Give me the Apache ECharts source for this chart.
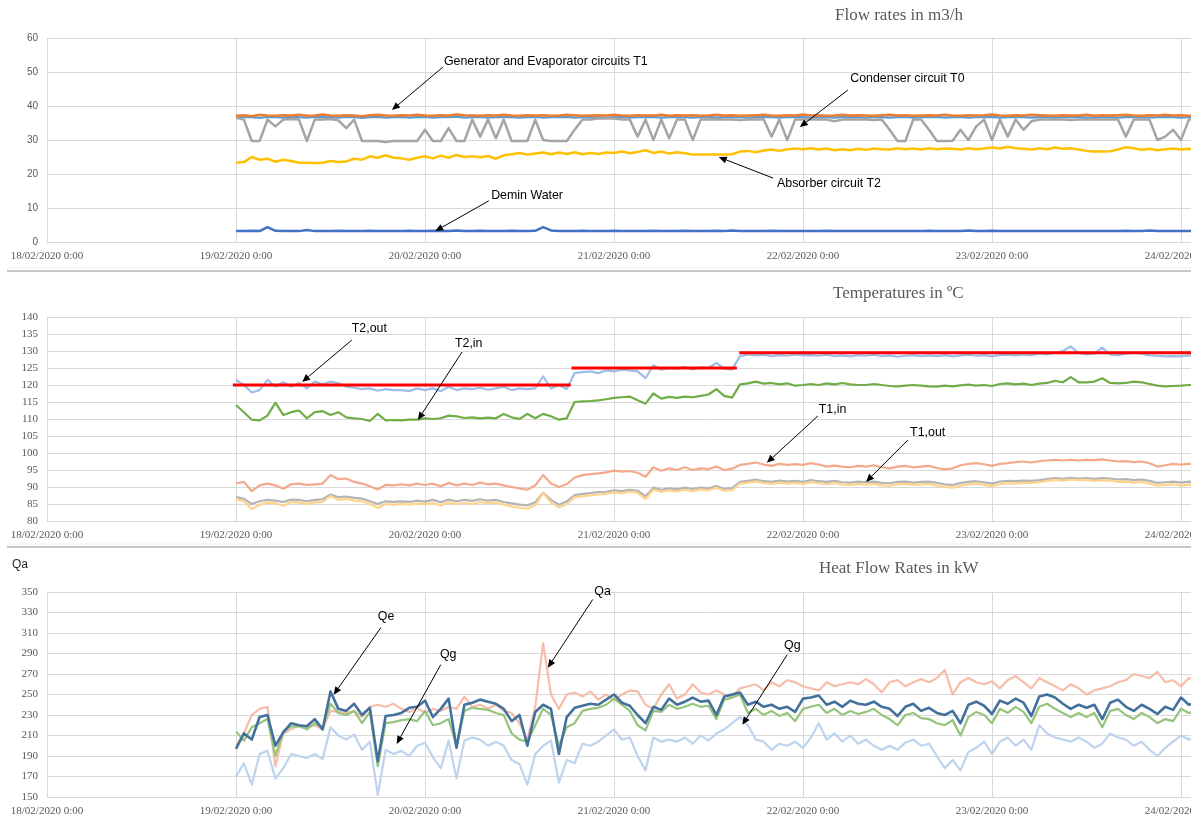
<!DOCTYPE html>
<html>
<head>
<meta charset="utf-8">
<script src="https://cdn.jsdelivr.net/npm/echarts@6/dist/echarts.min.js"></script>
<style>
  html, body { margin: 0; padding: 0; width: 1191px; height: 820px; overflow: hidden; background: #fff; }
  #chart { width: 1460px; height: 820px; }
</style>
</head>
<body>
<div id="chart"></div>
<script>
// Day tick labels on the shared time axis (hours counted from 18/02/2020 0:00)
const dayLabels = ['18/02/2020 0:00', '19/02/2020 0:00', '20/02/2020 0:00', '21/02/2020 0:00',
  '22/02/2020 0:00', '23/02/2020 0:00', '24/02/2020 0:00', '25/02/2020 0:00'];
const startHour = 24;   // first logged sample: 19/02/2020 0:00
const stepHours = 1;    // hourly samples

// ---- Flow rates in m3/h ----
const flowGenEvapT1 = [
  37.1,37.3,37.0,37.4,37.2,37.1,37.3,37.2,37.4,37.1,37.2,37.5,
  37.2,37.1,37.3,37.2,37.0,37.3,37.4,37.2,37.1,37.3,37.2,37.4,
  37.2,37.1,37.3,37.2,37.5,37.3,37.2,37.1,37.3,37.2,37.4,37.2,
  37.1,37.3,37.2,37.3,37.1,37.2,37.4,37.3,37.1,37.2,37.3,37.2,
  37.4,37.2,37.1,37.3,37.2,37.2,37.4,37.1,37.3,37.2,37.3,37.1,
  37.2,37.4,37.2,37.3,37.1,37.2,37.3,37.4,37.2,37.1,37.3,37.2,
  37.5,37.2,37.3,37.1,37.2,37.4,37.2,37.3,37.2,37.1,37.3,37.4,
  37.2,37.3,37.1,37.2,37.3,37.2,37.4,37.2,37.1,37.3,37.2,37.3,
  37.5,37.2,37.1,37.3,37.2,37.4,37.3,37.2,37.1,37.3,37.2,37.2,
  37.4,37.1,37.3,37.2,37.3,37.4,37.2,37.1,37.3,37.2,37.4,37.2,
  37.3,37.1,37.2,37.3];
const flowGenEvapT1b = [
  36.6,36.8,36.7,36.5,36.8,36.7,36.6,36.9,36.7,36.6,36.8,36.7,
  36.7,36.6,36.8,36.7,36.5,36.7,36.8,36.6,36.7,36.8,36.6,36.7,
  36.8,36.6,36.7,36.7,36.9,36.6,36.7,36.8,36.6,36.7,36.8,36.7,
  36.6,36.7,36.8,36.6,36.7,36.7,36.8,36.6,36.7,36.8,36.7,36.6,
  36.7,36.8,36.6,36.7,36.7,36.8,36.6,36.7,36.8,36.7,36.6,36.7,
  36.8,36.6,36.7,36.7,36.8,36.6,36.7,36.8,36.7,36.6,36.7,36.8,
  36.7,36.6,36.8,36.7,36.6,36.7,36.8,36.7,36.6,36.8,36.7,36.6,
  36.7,36.8,36.6,36.7,36.7,36.8,36.6,36.7,36.8,36.6,36.7,36.7,
  36.8,36.6,36.7,36.8,36.7,36.6,36.7,36.8,36.6,36.7,36.8,36.7,
  36.6,36.7,36.8,36.7,36.6,36.7,36.8,36.7,36.6,36.7,36.8,36.7,
  36.6,36.7,36.7,36.8];
const flowCondenserT0 = [
  36.5,36,29.7,29.7,36,34,36,36.2,36,29.7,36,36,
  36.2,35.8,33.5,36,29.7,29.7,29.7,29.4,29.7,29.7,29.7,29.7,
  33,29.7,29.7,33.5,29.7,29.7,36,31,36,30.5,36,29.7,
  29.7,29.7,36,30,29.7,29.7,29.7,33,36,36,36.3,36.3,
  36.3,36,36,31,36,30,36,30.5,36,36,30,36,
  36,36.1,36,36,35.9,36,36,36.1,31,36,30,36,
  36,36.1,36,36,35.5,36,36.1,36,36,35.9,36,33,
  29.7,29.7,36,36,33,29.7,29.7,29.8,33,30,34,36,
  30,36,31,36,33,35.5,36,36,36.1,36,35.9,36,
  36,36.1,36,36,36,31,36,36,36,30,31,33,
  30,36,36,36];
const flowAbsorberT2 = [
  23.3,23.5,25,24.2,24.5,23.6,24.2,23.8,23.3,23.3,23.2,23.3,
  23.8,23.5,23.7,24.5,24.2,25.2,24.8,25.5,24.8,24.6,24.2,24.8,
  25.2,24.6,25.4,24.8,25.6,25,25.2,24.9,25.3,24.5,25.5,25.8,
  26.2,25.7,26,26.3,25.8,26.3,25.9,26.4,25.8,26.2,25.9,26.3,
  26.2,26.6,26.1,26.5,27,26.2,26.6,26,26.4,26.1,25.7,25.7,
  25.7,25.7,25.7,25.8,26.6,26.8,26.4,26.9,27.2,26.8,27.3,27.5,
  27.3,27.6,27.2,27.5,27,27.3,27,27.4,27.1,27.5,27.3,27.2,
  27.6,27.3,27.5,27.2,27.6,27.3,27.5,27.4,27.2,27.6,27.3,27.5,
  27.8,27.5,28,27.6,27.4,27.2,27.6,27.3,27.8,27.4,27.6,27.2,
  26.8,26.6,26.6,26.7,27.2,27.9,27.6,27.1,27.4,27,27.3,27.5,
  27.2,27.4,27.3,27.3];
const flowDeminWater = [
  3.2,3.2,3.3,3.2,4.4,3.3,3.2,3.2,3.2,3.5,3.2,3.2,
  3.2,3.3,3.2,3.2,3.2,3.3,3.2,3.2,3.2,3.2,3.3,3.2,
  3.2,3.3,3.2,3.2,3.4,3.2,3.2,3.3,3.2,3.2,3.2,3.3,
  3.2,3.2,3.3,4.4,3.4,3.2,3.2,3.2,3.3,3.2,3.2,3.2,
  3.3,3.2,3.2,3.2,3.2,3.3,3.2,3.2,3.2,3.3,3.2,3.2,
  3.2,3.3,3.2,3.4,3.2,3.2,3.2,3.2,3.3,3.2,3.2,3.2,
  3.2,3.2,3.2,3.3,3.2,3.2,3.2,3.2,3.2,3.2,3.2,3.2,
  3.2,3.2,3.2,3.2,3.3,3.2,3.2,3.2,3.2,3.4,3.2,3.2,
  3.3,3.2,3.2,3.2,3.2,3.2,3.2,3.2,3.2,3.2,3.2,3.2,
  3.2,3.2,3.2,3.2,3.2,3.3,3.2,3.2,3.4,3.2,3.2,3.2,
  3.2,3.2,3.2,3.2];

// ---- Temperatures in ºC ----
const tempT2out = [
  121.5,120,117.8,118.5,121.5,119.5,120.8,119.5,120.6,119,121,120.2,
  121,120.5,119.5,119.2,118.8,119,118.3,118.8,118.5,118.5,118.2,119,
  118.5,119,118.2,119.5,118.5,119,118.8,119.2,118.6,119,119.5,118.5,
  119,118.8,119,122.5,119,120,118.8,123.5,123.8,124,123.5,124.3,
  124,124.5,124.3,124,122,125.8,124.5,125,124.8,125.3,124.6,125.2,
  125,126.5,124.8,124.6,128.5,129,128.7,128.9,128.5,128.8,128.6,129,
  128.7,128.8,128.6,128.9,128.5,128.7,128.4,128.8,128.6,128.9,128.5,128.7,
  128.3,128.6,128.8,128.5,128.7,128.5,128.8,128.4,128.7,128.9,128.6,128.8,
  128.4,128.8,128.9,128.7,129,128.8,129.3,129,129.5,130,131.3,129.4,
  129,129.2,131,129,128.8,129.2,129.5,129.2,128.7,128.6,128.4,128.5,
  128.4,128.7,128.6,128.6];
const tempT2in = [
  114.1,112,109.8,109.6,111,114.8,111.2,112,112.5,110.2,112,112.3,
  111.2,112,110.5,110.2,110,109.4,111.5,109.6,109.7,109.6,109.8,109.8,
  110.2,110,110.2,111,110.8,110.3,110.5,110.2,110.4,110.2,111.5,110.5,
  110,111.5,110.2,111.5,110.8,109.8,110.2,115,115.2,115.3,115.5,115.8,
  116.2,116.4,116.6,115.5,114.5,117.5,116,116.5,116.2,116.6,116.4,116.8,
  117.2,118.8,116.8,116.3,120.2,120.5,121,120.4,120.6,120.2,120.5,119.8,
  120,120.3,120,120.5,120.2,120.6,120.2,120,120,120.3,120,119.7,
  119.6,119.8,120,119.8,119.6,119.5,119.8,119.6,119.9,120.1,119.8,120,
  119.7,120.3,120.5,120.2,120.4,120,120.4,120.6,121.2,120.8,122.3,120.8,
  120.8,121,122,120.6,120.5,120.6,121,120.8,120.3,119.8,119.6,119.7,
  119.8,120,120,120];
const tempT1in = [
  91.1,91.5,88.8,90.5,91,90.5,89.5,90.8,91,90.6,90.8,91,
  93.5,92.3,92.5,91.5,91,90.2,89.3,90.6,90.5,90.8,90.5,91,
  90.6,91,90.2,91.2,90.5,91,90.6,91.3,90.8,91,90.5,90,
  89.6,89.2,90.5,93.5,91,90,90.8,92.8,93.5,93.8,94,94.3,
  94.8,94.5,94.7,94.2,93,95.8,94.8,95.5,95,95.8,95,95.5,
  95.3,96,95,95.4,96.5,96.8,97.2,96.6,96.2,96.8,96.5,96.7,
  96.5,97,96.6,96,96.3,96,95.8,96.2,96,96.4,95.8,95.5,
  96,96.2,95.8,96,96.2,95.6,95.2,95.5,96.4,96.8,97,96.7,
  96.2,96.8,97,97.3,97.5,97.2,97.6,97.8,98,97.8,98,97.8,
  98,97.9,98.1,97.8,97.5,97.6,97.3,97.5,97,96,96.4,96.8,
  96.6,96.8,96.8,96.8];
const tempT1outA = [
  87,86.5,85,85.8,86.2,86,85.6,86.3,86.2,85.8,86.2,86.4,
  87.8,87,87.2,86.8,86.6,85.8,85,85.8,85.6,85.8,85.6,86,
  85.7,86.2,85.5,86.3,85.8,86.2,85.9,86.4,86,86.2,85.6,85.2,
  84.8,84.6,85.5,88.3,86.2,84.8,85.8,87.6,88,88.2,88.5,88.6,
  89,88.8,89.2,88.9,87.3,89.8,89.2,89.6,89.3,89.8,89.4,89.8,
  89.6,90.3,89.5,89.7,91.5,91.8,92.2,91.7,91.5,91.9,91.6,91.8,
  91.5,92,91.7,91.5,91.8,91.4,91.3,91.6,91.4,91.6,91.2,91.1,
  91.5,91.6,91.3,91.5,91.6,91.2,90.8,90.6,91.2,91.5,91.7,91.4,
  91,91.6,91.8,91.7,91.9,91.8,92,92.3,92.6,92.4,92.7,92.5,
  92.6,92.4,92.6,92.5,92.2,92.3,92,92.2,91.8,91.2,91.4,91.6,
  91.3,91.6,91.5,91.5];
const tempT1outB = [
  86.5,85.8,83.5,84.8,85.4,85.2,84.5,85.6,85.4,85,85.5,85.6,
  87.4,86.2,86.5,86,85.8,85,83.8,85,84.8,85,84.8,85.2,
  84.9,85.3,84.6,85.5,85,85.3,85,85.6,85.2,85.4,84.8,84.3,
  83.9,83.6,84.6,88.2,85.4,84,85,87,87.3,87.5,87.8,88,
  88.4,88.2,88.6,88.3,86.5,89.2,88.6,89,88.7,89.2,88.8,89.3,
  89,89.8,88.9,89.1,91,91.3,91.6,91.2,90.9,91.3,91,91.2,
  90.9,91.4,91.1,90.8,91.1,90.7,90.6,90.9,90.7,90.9,90.5,90.3,
  90.8,90.9,90.6,90.8,90.9,90.4,90,89.8,90.4,90.8,91,90.7,
  90.2,90.9,91.1,91,91.3,91.2,91.4,91.8,92.1,91.9,92.2,92,
  92.1,91.8,92,91.9,91.5,91.6,91.3,91.5,91,90.4,90.6,90.8,
  90.4,90.7,90.6,90.6];
// T2,out set-point steps: start hour, end hour, value
const setpointFrom = [23.6, 66.6, 87.9];
const setpointTo = [66.5, 87.6, 170];
const setpointT2out = [120, 125, 129.5];

// ---- Heat Flow Rates in kW ----
const heatQe = [
  197,212,206,228,230,200,213,222,220,219,226,216,
  253,236,234,241,230,237,185,229,230,232,237,238,
  244,228,236,246,198,240,242,245,243,241,236,224,
  230,200,233,240,236,192,228,237,239,241,240,245,
  250,242,239,230,222,238,235,246,240,243,247,243,
  244,230,248,250,252,240,243,238,240,236,238,233,
  246,247,249,240,243,238,244,241,240,243,238,236,
  229,238,241,234,237,232,230,234,222,240,243,239,
  231,244,241,246,242,229,248,250,247,241,236,240,
  237,240,226,242,245,238,234,240,236,231,238,235,
  247,240,242,240];
const heatQc = [
  214,205,218,222,226,190,214,219,219,216,222,218,
  241,232,230,234,222,233,180,222,223,225,226,224,
  234,220,222,226,200,234,237,236,235,232,230,212,
  206,204,220,236,230,200,218,222,234,236,237,240,
  246,240,234,220,215,234,233,240,236,238,241,238,
  239,226,245,247,250,232,236,230,234,229,232,224,
  236,238,240,232,236,230,234,231,233,236,230,226,
  220,230,232,227,226,222,220,225,210,228,233,230,
  222,236,232,238,233,222,238,241,236,232,228,232,
  228,232,218,234,236,230,226,232,228,222,226,224,
  236,232,234,232];
const heatQa = [
  200,212,230,236,238,180,212,216,220,218,220,216,
  234,233,232,234,228,238,240,238,241,236,233,237,
  232,236,234,238,236,248,238,240,236,240,234,232,
  222,206,238,300,250,236,250,252,248,253,245,250,
  244,250,254,253,240,236,250,260,246,250,260,252,
  250,254,250,248,256,258,260,254,262,258,264,262,
  258,256,254,262,258,260,262,260,265,260,252,262,
  264,258,262,265,262,266,274,250,262,266,262,260,
  263,256,264,268,262,256,266,262,258,254,260,256,
  250,254,256,258,262,264,270,268,266,272,262,264,
  258,266,264,262];
const heatQg = [
  170,183,162,192,195,168,178,192,190,188,192,187,
  218,210,206,211,196,204,152,196,192,195,190,200,
  203,189,178,205,168,205,208,206,200,204,200,186,
  182,162,192,200,205,164,186,183,202,200,204,210,
  216,206,208,190,176,208,204,206,204,208,202,210,
  205,212,216,222,228,220,206,204,196,202,200,204,
  198,208,222,206,212,204,210,202,206,200,196,200,
  196,203,206,200,202,190,178,186,176,194,198,204,
  192,204,208,200,206,196,220,212,208,206,204,208,
  204,198,202,212,208,206,200,204,196,190,198,204,
  210,206,208,204];

// ---------------------------------------------------------------
const chart = echarts.init(document.getElementById('chart'), null, { renderer: 'canvas' });

const AXIS_GREY = '#595959';
const GRID_GREY = '#d9d9d9';

const panels = [
  { top: 38,  height: 204, min: 0,   max: 60,  interval: 10, labelFont: 'Liberation Sans', labelSize: 10 },
  { top: 317, height: 204, min: 80,  max: 140, interval: 5,  labelFont: 'Liberation Serif', labelSize: 11 },
  { top: 592, height: 205, min: 150, max: 350, interval: 20, labelFont: 'Liberation Serif', labelSize: 11 }
];

// fixed plot rectangles: labels may hang outside the canvas edge
const grid = panels.map(p => ({
  left: 47, width: 1323, top: p.top, height: p.height,
  containLabel: false, outerBoundsMode: 'none'
}));

const xAxis = panels.map((p, i) => ({
  type: 'value', gridIndex: i, min: 0, max: 168, interval: 24,
  axisLine: { show: true, lineStyle: { color: GRID_GREY, width: 1 } },
  axisTick: { show: false },
  axisLabel: {
    formatter: v => dayLabels[Math.round(v / 24)],
    fontFamily: 'Liberation Serif', fontSize: 11, color: AXIS_GREY, margin: 9,
    showMinLabel: true, showMaxLabel: true
  },
  splitLine: { show: true, lineStyle: { color: GRID_GREY, width: 1 } }
}));

const yAxis = panels.map((p, i) => ({
  type: 'value', gridIndex: i, min: p.min, max: p.max, interval: p.interval,
  axisLine: { show: false }, axisTick: { show: false },
  axisLabel: { fontFamily: p.labelFont, fontSize: p.labelSize, color: AXIS_GREY, margin: 9 },
  splitLine: { show: true, lineStyle: { color: GRID_GREY, width: 1 } }
}));

function lineSeries(name, values, gi, color, width, z) {
  return {
    name, type: 'line', xAxisIndex: gi, yAxisIndex: gi,
    data: values.map((v, i) => [startHour + i * stepHours, v]),
    symbol: 'none', showSymbol: false, silent: true, z: z || 2,
    lineStyle: { color, width, join: 'round' }, itemStyle: { color }
  };
}

const series = [
  // flow rates
  lineSeries('Generator and Evaporator circuits T1 (2)', flowGenEvapT1b, 0, '#5B9BD5', 2.2),
  lineSeries('Condenser circuit T0', flowCondenserT0, 0, '#A5A5A5', 2.5),
  lineSeries('Absorber circuit T2', flowAbsorberT2, 0, '#FFC000', 2.5),
  lineSeries('Demin Water', flowDeminWater, 0, '#4472C4', 2.5),
  lineSeries('Generator and Evaporator circuits T1', flowGenEvapT1, 0, '#ED7D31', 2.5),
  // temperatures
  lineSeries('T2,out', tempT2out, 1, '#9DBEE6', 2.2),
  lineSeries('T2,in', tempT2in, 1, '#70AD47', 2.2),
  lineSeries('T1,in', tempT1in, 1, '#F4A98B', 2.2),
  lineSeries('T1,out (a)', tempT1outA, 1, '#B4B4B4', 2.2),
  lineSeries('T1,out', tempT1outB, 1, '#FFD38C', 2.2),
  // heat flow rates
  lineSeries('Qg', heatQg, 2, '#BDD3EE', 2.2),
  lineSeries('Qa', heatQa, 2, '#F6BDA8', 2.2),
  lineSeries('Qc', heatQc, 2, '#97C47C', 2.2),
  lineSeries('Qe', heatQe, 2, '#41719C', 2.6)
];

// red T2,out set-point segments
setpointT2out.forEach((v, i) => {
  series.push({
    name: 'T2,out set-point ' + (i + 1), type: 'line', xAxisIndex: 1, yAxisIndex: 1,
    data: [[setpointFrom[i], v], [setpointTo[i], v]],
    symbol: 'none', silent: true, z: 5,
    lineStyle: { color: '#FF0000', width: 3 }
  });
});

const titleStyle = { fontFamily: 'Liberation Serif', fontSize: 17, fontWeight: 'normal', color: AXIS_GREY };

chart.setOption({
  animation: false,
  backgroundColor: '#ffffff',
  title: [
    { text: 'Flow rates in m3/h', left: 830, top: 2, textStyle: titleStyle },
    { text: 'Temperatures in ºC', left: 828, top: 280, textStyle: titleStyle },
    { text: 'Heat Flow Rates in kW', left: 814, top: 555, textStyle: titleStyle }
  ],
  grid, xAxis, yAxis, series
});

// Callouts: label position, arrow tail and arrow head, all in data units of their panel
const callouts = [
  { g: 0, text: 'Generator and Evaporator circuits T1', at: [50.4, 53.2], from: [50.3, 51.5], to: [43.8, 38.8] },
  { g: 0, text: 'Condenser circuit T0', at: [102.0, 48.2], from: [101.7, 44.7], to: [95.6, 33.8] },
  { g: 0, text: 'Absorber circuit T2', at: [92.7, 17.1], from: [92.2, 18.8], to: [85.3, 25.0] },
  { g: 0, text: 'Demin Water', at: [56.4, 13.8], from: [56.1, 12.1], to: [49.3, 3.2] },
  { g: 1, text: 'T2,out', at: [38.7, 136.5], from: [38.7, 133.2], to: [32.4, 120.9] },
  { g: 1, text: 'T2,in', at: [51.8, 132.1], from: [52.7, 129.7], to: [47.1, 109.7] },
  { g: 1, text: 'T1,in', at: [98.0, 112.9], from: [97.9, 110.9], to: [91.4, 97.1] },
  { g: 1, text: 'T1,out', at: [109.6, 105.9], from: [109.3, 103.8], to: [104.0, 91.5] },
  { g: 2, text: 'Qe', at: [42.0, 326], from: [42.4, 315.3], to: [36.4, 249.8] },
  { g: 2, text: 'Qg', at: [49.9, 288.9], from: [50.0, 279.1], to: [44.4, 201.8] },
  { g: 2, text: 'Qa', at: [69.5, 350.5], from: [69.3, 342.7], to: [63.6, 276.2] },
  { g: 2, text: 'Qg', at: [93.6, 297.7], from: [94.0, 288.9], to: [88.3, 220.4] }
];

function arrowShapes(p0, p1) {
  const dx = p1[0] - p0[0], dy = p1[1] - p0[1];
  const len = Math.hypot(dx, dy);
  const ux = dx / len, uy = dy / len;
  const headLen = 8, headHalf = 3.5;
  const bx = p1[0] - ux * headLen, by = p1[1] - uy * headLen;
  return [
    { type: 'line', silent: true, z: 20,
      shape: { x1: p0[0], y1: p0[1], x2: bx, y2: by },
      style: { stroke: '#000', lineWidth: 1 } },
    { type: 'polygon', silent: true, z: 20,
      shape: { points: [[p1[0], p1[1]], [bx - uy * headHalf, by + ux * headHalf], [bx + uy * headHalf, by - ux * headHalf]] },
      style: { fill: '#000' } }
  ];
}

const graphics = [];
callouts.forEach(c => {
  const finder = { gridIndex: c.g };
  const pAt = chart.convertToPixel(finder, c.at);
  const pFrom = chart.convertToPixel(finder, c.from);
  const pTo = chart.convertToPixel(finder, c.to);
  graphics.push({
    type: 'text', silent: true, z: 20, x: pAt[0], y: pAt[1],
    style: { text: c.text, fontFamily: 'Liberation Sans', fontSize: 12.4, fill: '#000',
             align: 'left', verticalAlign: 'middle' }
  });
  arrowShapes(pFrom, pTo).forEach(s => graphics.push(s));
});

// panel separators and the stray "Qa" heading above the heat-flow panel
[271, 547].forEach(y => {
  graphics.push({ type: 'line', silent: true, shape: { x1: 7, y1: y - 3, x2: 1460, y2: y - 3 },
                  style: { stroke: '#f0f0f0', lineWidth: 1 } });
  graphics.push({ type: 'line', silent: true, shape: { x1: 7, y1: y, x2: 1460, y2: y },
                  style: { stroke: '#b5b5b5', lineWidth: 1.5 } });
});
graphics.push({ type: 'text', silent: true, x: 12, y: 565,
  style: { text: 'Qa', fontFamily: 'Liberation Sans', fontSize: 12, fill: '#262626', verticalAlign: 'middle' } });

chart.setOption({ graphic: graphics });
</script>
</body>
</html>
